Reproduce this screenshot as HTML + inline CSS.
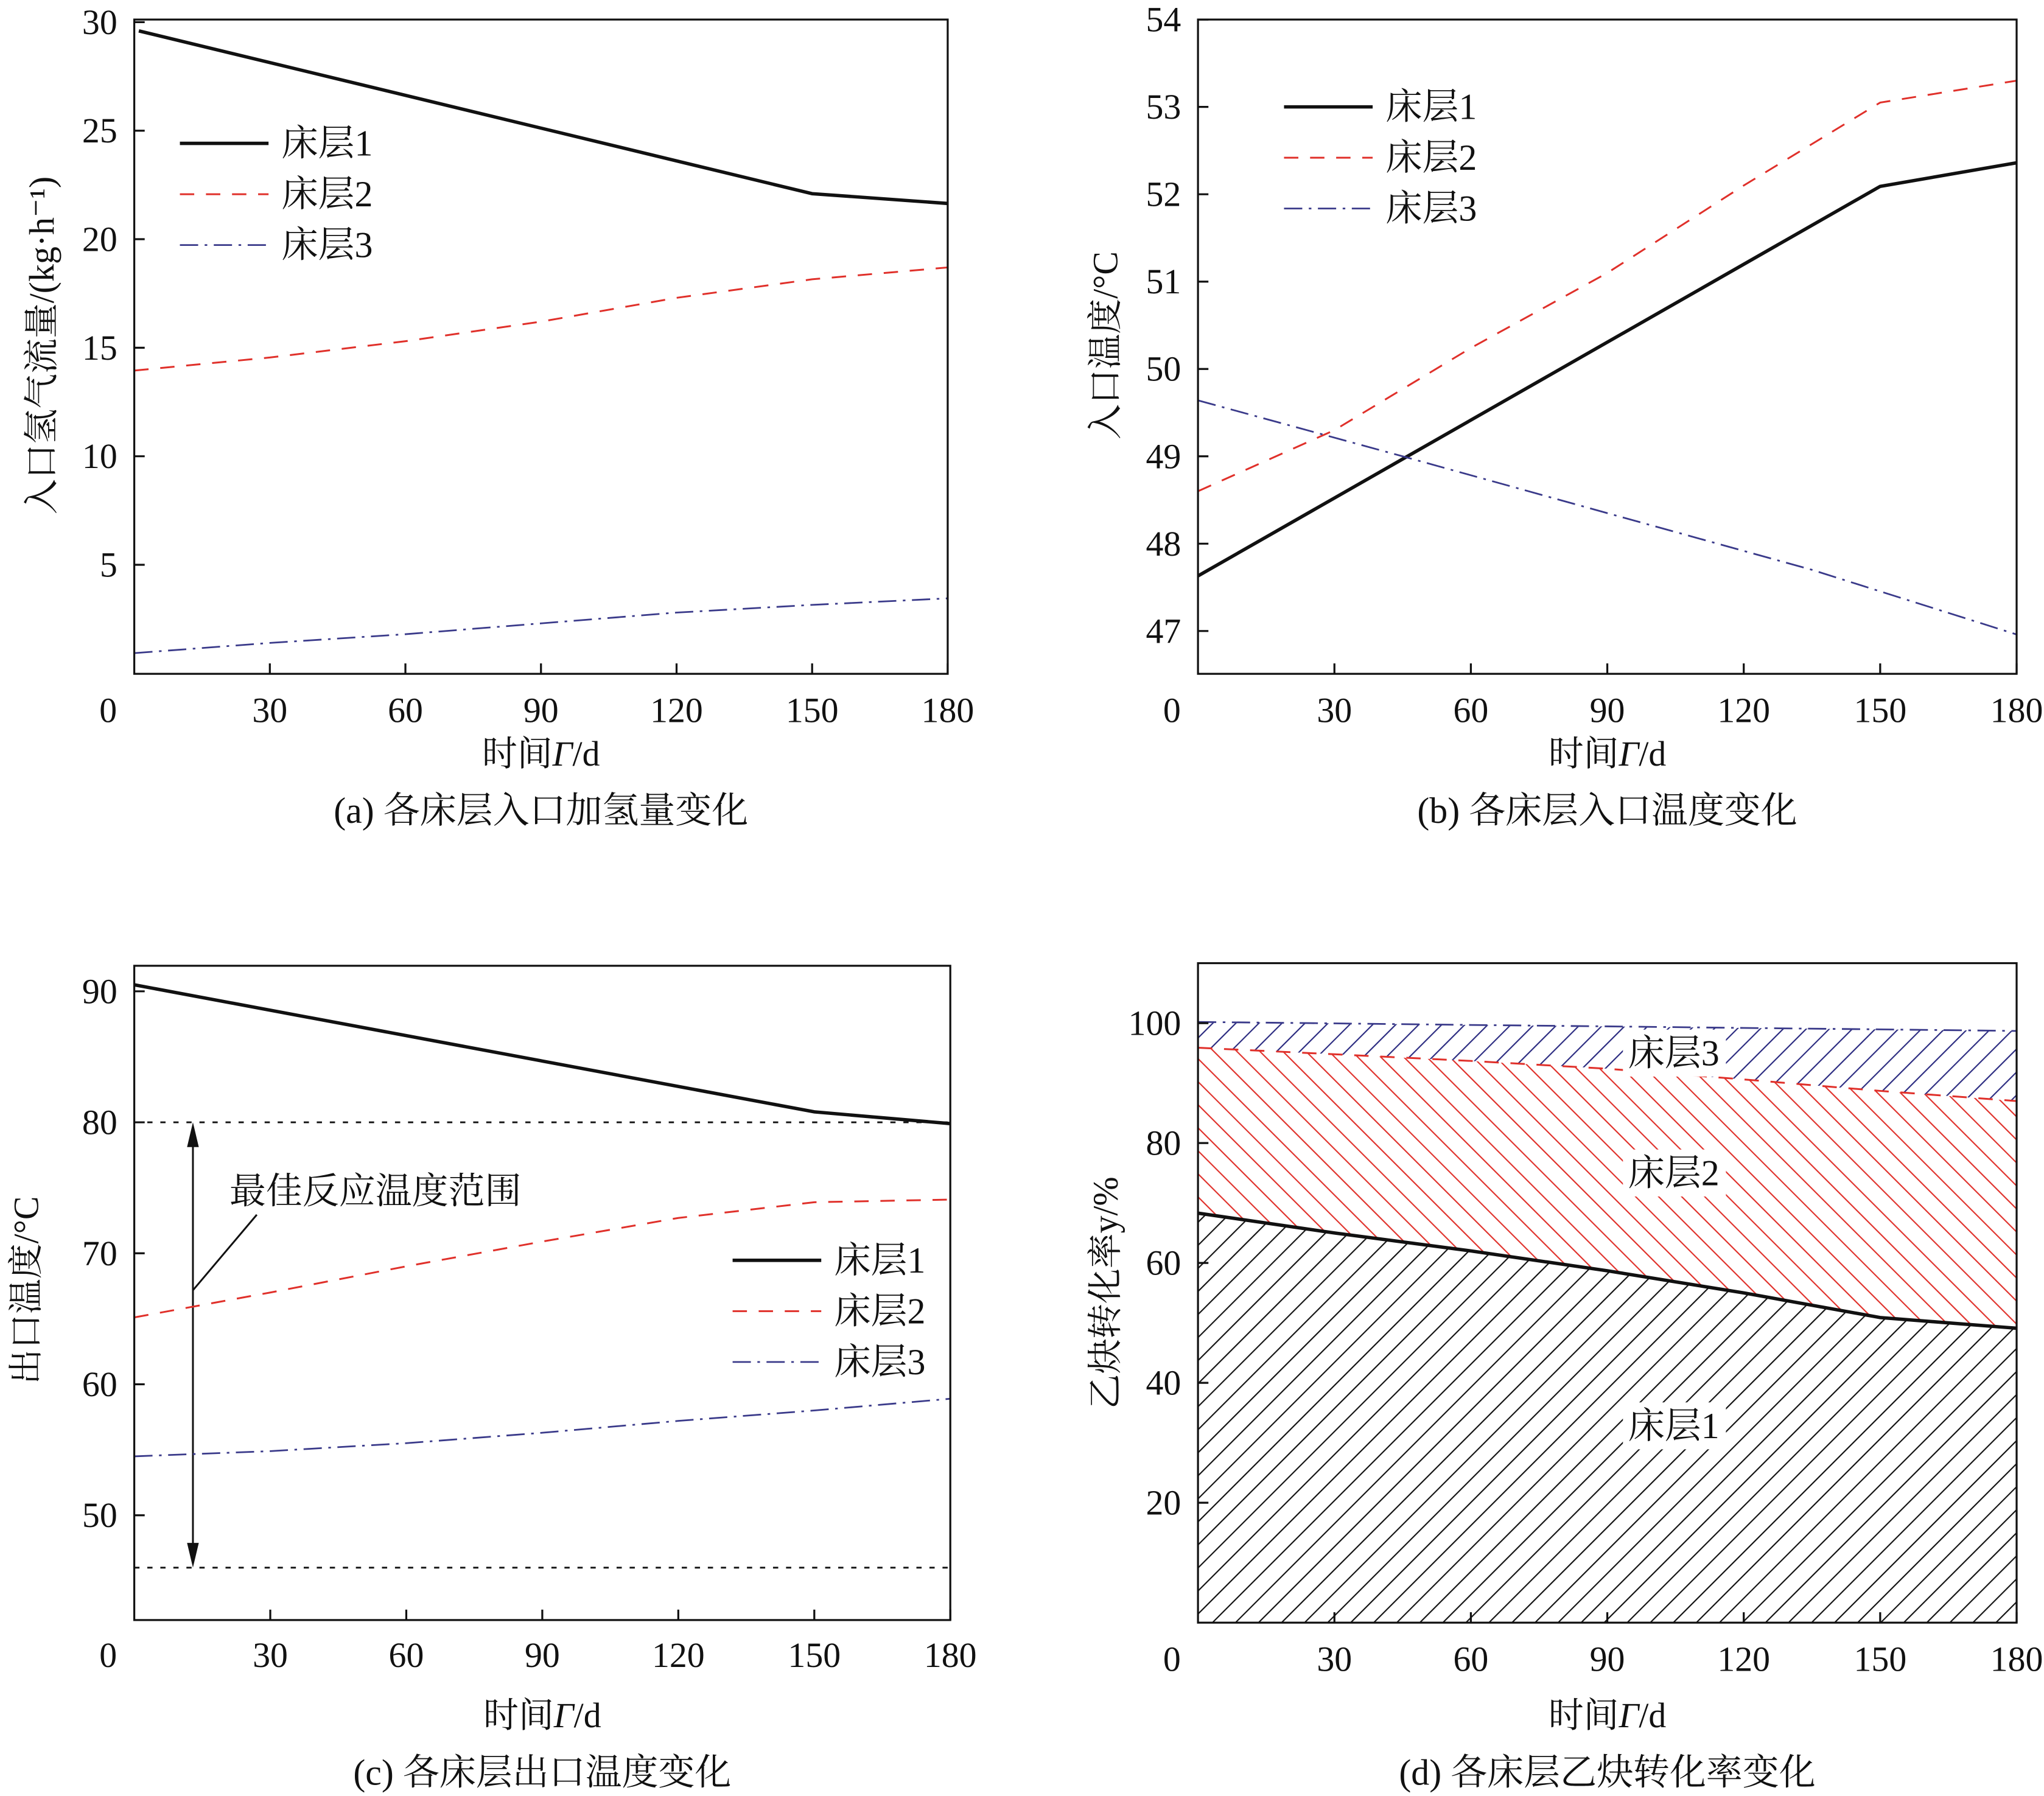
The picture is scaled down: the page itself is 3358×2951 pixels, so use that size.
<!DOCTYPE html>
<html><head><meta charset="utf-8">
<style>
html,body{margin:0;padding:0;background:#fff;}
svg{display:block;}
text{font-family:"Liberation Serif","Noto Serif CJK SC",serif;fill:#111;}
</style></head>
<body>
<svg id="fig" xmlns="http://www.w3.org/2000/svg" width="3358" height="2951" viewBox="0 0 1568 1378" preserveAspectRatio="none">
<defs>
<pattern id="hatch1" patternUnits="userSpaceOnUse" width="12.5" height="12.5" patternTransform="rotate(45)"><line x1="0" y1="0" x2="0" y2="12.5" stroke="#111" stroke-width="2"/></pattern>
<pattern id="hatch2" patternUnits="userSpaceOnUse" width="12.5" height="12.5" patternTransform="rotate(-45)"><line x1="0" y1="0" x2="0" y2="12.5" stroke="#e0302a" stroke-width="2"/></pattern>
<pattern id="hatch3" patternUnits="userSpaceOnUse" width="12.5" height="12.5" patternTransform="rotate(45)"><line x1="0" y1="0" x2="0" y2="12.5" stroke="#2a2a80" stroke-width="2"/></pattern>
</defs>
</svg>
<script>
// ---- Data ----
const days = [0, 30, 60, 90, 120, 150, 180];
const xTicks = [30, 60, 90, 120, 150, 180];
// (a) inlet hydrogen flow
const aDays1 = [1, 150, 180];
const aBed1 = [29.6, 22.1, 21.65];
const aBed2 = [13.95, 14.55, 15.3, 16.2, 17.3, 18.15, 18.7];
const aBed3 = [0.93, 1.4, 1.8, 2.3, 2.8, 3.15, 3.45];
const aYTicks = [5, 10, 15, 20, 25, 30];
// (b) inlet temperature
const bDays1 = [0, 150, 180];
const bBed1 = [47.63, 52.09, 52.36];
const bBed2 = [48.6, 49.3, 50.24, 51.1, 52.1, 53.05, 53.3];
const bDays3 = [0, 45, 90, 135, 180];
const bBed3 = [49.64, 49.0, 48.35, 47.7, 46.96];
const bYTicks = [47, 48, 49, 50, 51, 52, 53, 54];
// (c) outlet temperature
const cDays1 = [0, 150, 180];
const cBed1 = [90.5, 80.8, 79.9];
const cBed2 = [65.1, 67, 69, 70.9, 72.7, 73.9, 74.1];
const cBed3 = [54.5, 54.9, 55.5, 56.3, 57.2, 58, 58.9];
const cRange = [46, 80];
const cYTicks = [50, 60, 70, 80, 90];
// (d) conversion (cumulative)
const dBed1 = [68.3, 65, 62, 58.7, 55, 50.9, 49.1];
const dBed2 = [95.9, 94.8, 93.7, 92.4, 90.6, 88.7, 87];
const dBed3 = [100.2, 99.95, 99.7, 99.45, 99.2, 98.95, 98.7];
const dYTicks = [20, 40, 60, 80, 100];
const legendNames = ['床层1', '床层2', '床层3'];

const svg = document.getElementById('fig');
const NS = 'http://www.w3.org/2000/svg';
function mk(tag, attrs, parent) {
  const e = document.createElementNS(NS, tag);
  for (const k in attrs) e.setAttribute(k, attrs[k]);
  (parent || svg).appendChild(e);
  return e;
}
function txt(str, x, y, size, anchor, parent, rot) {
  const t = mk('text', {x: x, y: y, 'font-size': size, 'text-anchor': anchor || 'middle', 'dominant-baseline': 'central'}, parent);
  if (rot) t.setAttribute('transform', 'rotate(' + rot + ' ' + x + ' ' + y + ')');
  t.textContent = str;
  return t;
}
const styles = [
  {stroke: '#111', 'stroke-width': 2.6, fill: 'none'},
  {stroke: '#e0302a', 'stroke-width': 1.4, fill: 'none', 'stroke-dasharray': '11 9'},
  {stroke: '#3a3a8a', 'stroke-width': 1.3, fill: 'none', 'stroke-dasharray': '14 5 2 5'}
];
function pathD(xs, ys, sx, sy) {
  return xs.map((d, i) => (i ? 'L' : 'M') + sx(d).toFixed(1) + ' ' + sy(ys[i]).toFixed(1)).join(' ');
}

function panel(cfg) {
  const g = mk('g', {});
  
  
  const sx = v => cfg.x0 + (v - 0) / 180 * (cfg.x1 - cfg.x0);
  const sy = v => cfg.yb - (v - cfg.ymin) / (cfg.ymax - cfg.ymin) * (cfg.yb - cfg.yt);
  if (cfg.before) cfg.before(g, sx, sy);
  cfg.series.forEach((s, i) => {
    const p = mk('path', Object.assign({d: pathD(s.x, s.y, sx, sy)}, styles[i]), g);
    
    
  });
  if (cfg.after) cfg.after(g, sx, sy);
  const fr = mk('rect', {x: cfg.x0, y: cfg.yt, width: cfg.x1 - cfg.x0, height: cfg.yb - cfg.yt, fill: 'none', stroke: '#111', 'stroke-width': 1.5}, g);
  
  
  const xa = mk('g', {}, g);
  
  
  xTicks.forEach(v => {
    mk('line', {x1: sx(v), x2: sx(v), y1: cfg.yb, y2: cfg.yb - 8, stroke: '#111', 'stroke-width': 1.5}, xa);
    txt(String(v), sx(v), cfg.yb + cfg.xlabOff, 27, 'middle', xa);
  });
  txt('0', cfg.x0 - 20, cfg.yb + cfg.xlabOff, 27, 'middle', xa);
  const ya = mk('g', {}, g);
  
  
  cfg.yTicks.forEach(v => {
    mk('line', {x1: cfg.x0, x2: cfg.x0 + 8, y1: sy(v), y2: sy(v), stroke: '#111', 'stroke-width': 1.5}, ya);
    txt(String(v), cfg.x0 - 13, sy(v), 27, 'end', ya);
  });
  const yt = txt(cfg.ytitle, cfg.ytx, cfg.yty, 27, 'middle', g, -90);
  
  
  const xtt = txt('', (cfg.x0 + cfg.x1) / 2, cfg.xty, 27, 'middle', g);
  const s1 = mk('tspan', {}, xtt); s1.textContent = '时间';
  const s2 = mk('tspan', {'font-style': 'italic'}, xtt); s2.textContent = 'Γ';
  const s3 = mk('tspan', {}, xtt); s3.textContent = '/d';
  
  
  const cap = txt(cfg.caption, (cfg.x0 + cfg.x1) / 2, cfg.xty + 44, 28, 'middle', g);
  
  
  if (cfg.legend) {
    const lg = mk('g', {}, g);
    
    
    legendNames.forEach((n, i) => {
      const y = cfg.legend.y + i * 39;
      mk('line', Object.assign({x1: cfg.legend.x, x2: cfg.legend.x + 68, y1: y, y2: y}, styles[i]), lg);
      const t = txt(n, cfg.legend.x + 78, y, 28, 'start', lg);
      
      
    });
  }
}

// (a)
panel({name: 'panel-a', x0: 103, x1: 727, yt: 15, yb: 517, ymin: 30 - (517 - 15) / 16.72, ymax: 30.12,
  yTicks: aYTicks, ytitle: '入口氢气流量/(kg·h⁻¹)', ytx: 32, yty: 265, xlabOff: 28, xty: 578,
  caption: '(a) 各床层入口加氢量变化', legend: {x: 138, y: 110},
  series: [{x: aDays1, y: aBed1}, {x: days, y: aBed2}, {x: days, y: aBed3}]});
// (b)
panel({name: 'panel-b', x0: 919, x1: 1547, yt: 15, yb: 517, ymin: 46.51, ymax: 54.0,
  yTicks: bYTicks, ytitle: '入口温度/°C', ytx: 848, yty: 265, xlabOff: 28, xty: 578,
  caption: '(b) 各床层入口温度变化', legend: {x: 985, y: 82},
  series: [{x: bDays1, y: bBed1}, {x: days, y: bBed2}, {x: bDays3, y: bBed3}]});
// (c)
panel({name: 'panel-c', x0: 103, x1: 729, yt: 741, yb: 1243, ymin: 42.0, ymax: 91.95,
  yTicks: cYTicks, ytitle: '出口温度/°C', ytx: 20, yty: 990, xlabOff: 27, xty: 1316,
  caption: '(c) 各床层出口温度变化', legend: {x: 562, y: 967},
  series: [{x: cDays1, y: cBed1}, {x: days, y: cBed2}, {x: days, y: cBed3}],
  before: (g, sx, sy) => {
    cRange.forEach(v => {
      const l = mk('line', {x1: 103, x2: 729, y1: sy(v), y2: sy(v), stroke: '#111', 'stroke-width': 1.3, 'stroke-dasharray': '4 6'}, g);
      
      
    });
    const ax = 148, ytop = sy(cRange[1]), ybot = sy(cRange[0]);
    const ar = mk('g', {}, g);
    
    
    mk('line', {x1: ax, x2: ax, y1: ytop + 4, y2: ybot - 4, stroke: '#111', 'stroke-width': 1.4}, ar);
    mk('path', {d: `M${ax} ${ytop} L${ax - 4.5} ${ytop + 19} L${ax + 4.5} ${ytop + 19} Z`, fill: '#111'}, ar);
    mk('path', {d: `M${ax} ${ybot} L${ax - 4.5} ${ybot - 19} L${ax + 4.5} ${ybot - 19} Z`, fill: '#111'}, ar);
    mk('line', {x1: ax, y1: 990, x2: 197, y2: 932, stroke: '#111', 'stroke-width': 1.4}, ar);
    const t = txt('最佳反应温度范围', 176, 914, 28, 'start', g);
    
    
  }});
// (d)
panel({name: 'panel-d', x0: 919, x1: 1547, yt: 739, yb: 1245, ymin: 0, ymax: 110,
  yTicks: dYTicks, ytitle: '乙炔转化率y/%', ytx: 848, yty: 992, xlabOff: 28, xty: 1316,
  caption: '(d) 各床层乙炔转化率变化', legend: null,
  series: [{x: days, y: dBed1}, {x: days, y: dBed2}, {x: days, y: dBed3}],
  before: (g, sx, sy) => {
    const layers = [[null, dBed1, 'hatch1'], [dBed1, dBed2, 'hatch2'], [dBed2, dBed3, 'hatch3']];
    layers.forEach((L, i) => {
      let d = days.map((v, j) => (j ? 'L' : 'M') + sx(v).toFixed(1) + ' ' + sy(L[1][j]).toFixed(1)).join(' ');
      if (L[0]) {
        for (let j = days.length - 1; j >= 0; j--) d += ' L' + sx(days[j]).toFixed(1) + ' ' + sy(L[0][j]).toFixed(1);
      } else {
        d += ` L${sx(180)} ${sy(0)} L${sx(0)} ${sy(0)}`;
      }
      const p = mk('path', {d: d + ' Z', fill: `url(#${L[2]})`, stroke: 'none'}, g);
      
      
    });
  },
  after: (g) => {
    [['床层3', 808], ['床层2', 900], ['床层1', 1094]].forEach((a, i) => {
      mk('rect', {x: 1245, y: a[1] - 18, width: 79, height: 36, fill: '#fff'}, g);
      const t = txt(a[0], 1284, a[1], 28, 'middle', g);
      
      
    });
  }});
</script>
</body></html>
